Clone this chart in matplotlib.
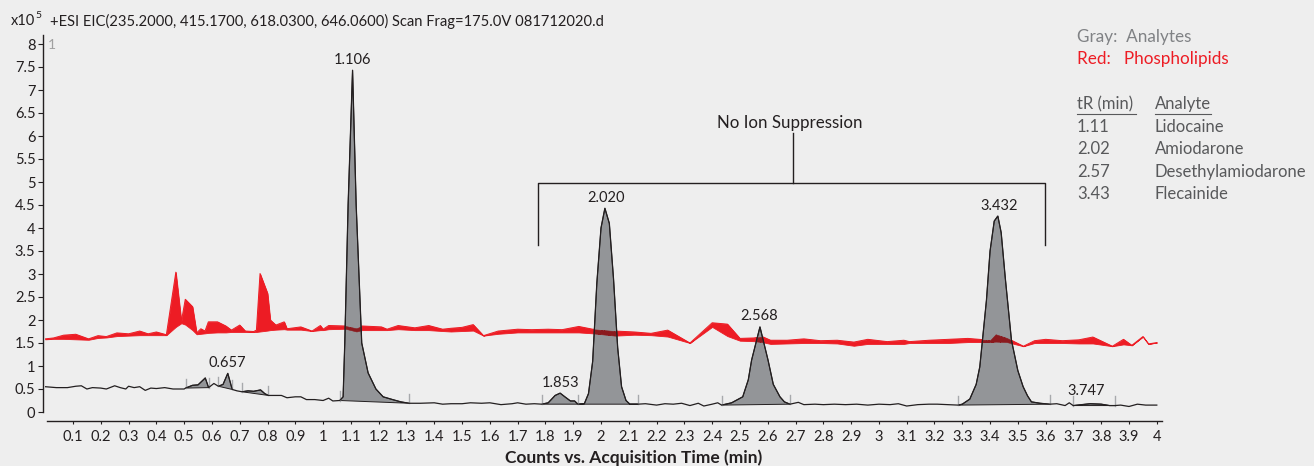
import numpy as np
import matplotlib
matplotlib.use('Agg')
import matplotlib.pyplot as plt
from matplotlib.lines import Line2D

plt.rcParams['font.family'] = ['Lato', 'DejaVu Sans']

# Analyte trace (gray), time in min, counts in x10^5
gray_x = [0.00, 0.04, 0.08, 0.11, 0.13, 0.15, 0.17, 0.20, 0.22, 0.25,
          0.27, 0.29, 0.30, 0.32, 0.34, 0.36, 0.38, 0.40, 0.43, 0.46,
          0.50, 0.505, 0.53, 0.55, 0.576, 0.588, 0.607, 0.623, 0.64, 0.657,
          0.673, 0.69, 0.708, 0.73, 0.75, 0.775, 0.79, 0.803, 0.85, 0.87,
          0.90, 0.92, 0.94, 0.97, 1.00, 1.02, 1.035, 1.06, 1.072, 1.078,
          1.09, 1.106, 1.119, 1.139, 1.162, 1.19, 1.216, 1.25, 1.28, 1.31,
          1.35, 1.40, 1.43, 1.46, 1.50, 1.53, 1.57, 1.60, 1.64, 1.68,
          1.70, 1.73, 1.76, 1.787, 1.81, 1.835, 1.853, 1.87, 1.89, 1.905,
          1.917, 1.94, 1.955, 1.97, 1.985, 2.00, 2.014, 2.03, 2.045, 2.06,
          2.074, 2.09, 2.104, 2.133, 2.16, 2.20, 2.23, 2.26, 2.29, 2.32,
          2.35, 2.37, 2.40, 2.42, 2.434, 2.47, 2.51, 2.53, 2.542, 2.572,
          2.601, 2.62, 2.644, 2.66, 2.68, 2.71, 2.73, 2.77, 2.80, 2.84,
          2.88, 2.92, 2.96, 3.00, 3.04, 3.07, 3.10, 3.14, 3.18, 3.21,
          3.25, 3.285, 3.30, 3.327, 3.35, 3.363, 3.375, 3.387, 3.40, 3.415,
          3.428, 3.44, 3.455, 3.477, 3.50, 3.519, 3.535, 3.549, 3.58, 3.615,
          3.64, 3.67, 3.685, 3.699, 3.73, 3.76, 3.80, 3.83, 3.849, 3.87,
          3.90, 3.93, 3.96, 4.00]
gray_y = [0.55, 0.53, 0.53, 0.56, 0.57, 0.50, 0.53, 0.52, 0.50, 0.57,
          0.53, 0.50, 0.56, 0.53, 0.55, 0.47, 0.52, 0.51, 0.53, 0.50,
          0.50, 0.52, 0.58, 0.59, 0.74, 0.53, 0.62, 0.56, 0.60, 0.84,
          0.49, 0.46, 0.44, 0.46, 0.45, 0.48, 0.40, 0.36, 0.36, 0.31,
          0.33, 0.33, 0.27, 0.27, 0.25, 0.30, 0.24, 0.25, 0.33, 1.50,
          4.50, 7.43, 4.50, 1.50, 0.85, 0.50, 0.33, 0.27, 0.22, 0.19,
          0.19, 0.20, 0.17, 0.18, 0.18, 0.20, 0.19, 0.20, 0.16, 0.18,
          0.20, 0.17, 0.18, 0.17, 0.20, 0.36, 0.41, 0.33, 0.24, 0.24,
          0.17, 0.18, 0.40, 1.10, 2.80, 4.00, 4.43, 4.10, 2.90, 1.40,
          0.55, 0.25, 0.17, 0.17, 0.18, 0.15, 0.18, 0.17, 0.19, 0.14,
          0.19, 0.13, 0.17, 0.20, 0.15, 0.20, 0.33, 0.70, 1.13, 1.85,
          1.13, 0.60, 0.33, 0.22, 0.17, 0.21, 0.16, 0.17, 0.16, 0.17,
          0.16, 0.17, 0.15, 0.17, 0.16, 0.18, 0.13, 0.16, 0.17, 0.17,
          0.16, 0.15, 0.17, 0.28, 0.60, 0.98, 1.70, 2.43, 3.50, 4.15,
          4.26, 3.90, 2.90, 1.56, 0.90, 0.55, 0.35, 0.22, 0.19, 0.17,
          0.18, 0.14, 0.20, 0.14, 0.16, 0.18, 0.17, 0.14, 0.14, 0.15,
          0.12, 0.17, 0.15, 0.15]

# Phospholipid trace (red), drawn as a band between two envelopes
red_x = [0.00, 0.03, 0.066, 0.11, 0.156, 0.19, 0.22, 0.258, 0.30, 0.34,
         0.37, 0.40, 0.436, 0.47, 0.49, 0.504, 0.53, 0.545, 0.56, 0.575,
         0.587, 0.62, 0.65, 0.67, 0.70, 0.72, 0.75, 0.76, 0.773, 0.80,
         0.81, 0.83, 0.86, 0.87, 0.92, 0.96, 0.99, 1.00, 1.02, 1.08,
         1.12, 1.14, 1.21, 1.23, 1.27, 1.33, 1.38, 1.43, 1.46, 1.50,
         1.54, 1.577, 1.63, 1.70, 1.75, 1.81, 1.86, 1.92, 1.97, 2.05,
         2.12, 2.18, 2.24, 2.32, 2.40, 2.455, 2.50, 2.55, 2.58, 2.61,
         2.67, 2.73, 2.79, 2.85, 2.91, 2.96, 3.03, 3.09, 3.11, 3.18,
         3.25, 3.32, 3.40, 3.42, 3.46, 3.52, 3.56, 3.60, 3.66, 3.72,
         3.77, 3.84, 3.88, 3.91, 3.95, 3.97, 4.00]
red_hi = [1.59, 1.61, 1.67, 1.69, 1.59, 1.66, 1.64, 1.72, 1.70, 1.76,
          1.70, 1.74, 1.68, 3.04, 1.97, 2.45, 2.29, 1.72, 1.81, 1.76,
          1.96, 1.96, 1.87, 1.78, 1.89, 1.76, 1.75, 1.78, 3.01, 2.58,
          2.00, 1.89, 1.96, 1.81, 1.85, 1.76, 1.88, 1.80, 1.88, 1.87,
          1.82, 1.87, 1.85, 1.80, 1.88, 1.83, 1.88, 1.80, 1.82, 1.84,
          1.90, 1.66, 1.76, 1.80, 1.79, 1.80, 1.79, 1.86, 1.80, 1.76,
          1.74, 1.71, 1.78, 1.50, 1.94, 1.91, 1.60, 1.61, 1.64, 1.56,
          1.56, 1.59, 1.55, 1.56, 1.52, 1.58, 1.53, 1.56, 1.53, 1.56,
          1.58, 1.60, 1.56, 1.69, 1.61, 1.43, 1.55, 1.58, 1.55, 1.57,
          1.63, 1.43, 1.58, 1.45, 1.64, 1.48, 1.51]
red_lo = [1.58, 1.59, 1.59, 1.58, 1.57, 1.61, 1.62, 1.65, 1.66, 1.67,
          1.67, 1.67, 1.67, 1.85, 1.93, 1.90, 1.78, 1.69, 1.70, 1.71,
          1.72, 1.73, 1.73, 1.74, 1.74, 1.74, 1.74, 1.74, 1.75, 1.77,
          1.78, 1.79, 1.80, 1.79, 1.79, 1.76, 1.78, 1.78, 1.80, 1.81,
          1.75, 1.78, 1.78, 1.78, 1.80, 1.78, 1.78, 1.76, 1.75, 1.76,
          1.77, 1.66, 1.70, 1.73, 1.73, 1.73, 1.73, 1.73, 1.71, 1.66,
          1.68, 1.67, 1.64, 1.50, 1.85, 1.65, 1.55, 1.54, 1.52, 1.48,
          1.49, 1.50, 1.50, 1.49, 1.44, 1.48, 1.48, 1.48, 1.50, 1.50,
          1.50, 1.52, 1.52, 1.53, 1.52, 1.43, 1.50, 1.50, 1.50, 1.49,
          1.49, 1.43, 1.47, 1.45, 1.64, 1.48, 1.51]

# integration windows (start, end) on the analyte trace
peak_start = [0.505, 0.623, 0.708, 1.06, 1.787, 1.917, 2.434, 3.285, 3.699]
peak_end = [0.588, 0.673, 0.803, 1.31, 1.917, 2.133, 2.68, 3.615, 3.849]

peak_label = ['0.657', '1.106', '1.853', '2.020', '2.568', '3.432', '3.747']
peak_apex = [0.84, 7.43, 0.41, 4.43, 1.85, 4.26, 0.22]

legend_tr = ['1.11', '2.02', '2.57', '3.43']
legend_name = ['Lidocaine', 'Amiodarone', 'Desethylamiodarone', 'Flecainide']

BG = '#eeeeee'
RED = '#ed1c24'
DARKRED = '#8b1a1e'
GRAY = '#939598'
INK = '#231f20'
SOFT = '#58595b'

W, H = 1314, 466
fig = plt.figure(figsize=(W / 100, H / 100), dpi=100, facecolor=BG)
ax = fig.add_axes([45.2 / W, 54 / H, 4.02 * 277.9 / W, 8.2 * 46 / H])
ax.set_facecolor(BG)
ax.set_xlim(0, 4.02)
ax.set_ylim(0, 8.2)

gx = np.array(gray_x)
gy = np.array(gray_y)
rx = np.array(red_x)

# phospholipid band
ax.fill_between(rx, red_lo, red_hi, color=RED, lw=0.6, zorder=2)
ax.plot(rx, red_hi, color=RED, lw=0.7, zorder=2)

# integrated analyte peaks
for s, e in zip(peak_start, peak_end):
    m = (gx >= s - 1e-9) & (gx <= e + 1e-9)
    poly = ax.fill(gx[m], gy[m], facecolor=GRAY, edgecolor=INK, lw=0.7, zorder=3)[0]
    over = ax.fill_between(rx, red_lo, red_hi, color=DARKRED, lw=0.4, zorder=4)
    over.set_clip_path(poly)

# boundary marks
for b in sorted(set(peak_start + peak_end)):
    i = int(np.argmin(np.abs(gx - b)))
    ax.plot([b, b], [gy[i], gy[i] + 0.2], color='#a7a9ac', lw=1.0, zorder=5)

ax.plot(gx, gy, color=INK, lw=0.9, zorder=6)

for lab, top in zip(peak_label, peak_apex):
    ax.annotate(lab, (float(lab), top), xytext=(0, 2.5), textcoords='offset points',
                ha='center', va='bottom', fontsize=10.5, color=INK, zorder=7)

# bracket for "No Ion Suppression"
bk = dict(color=INK, lw=1.0, clip_on=False, zorder=7)
ax.plot([1.773, 1.773, 3.597, 3.597], [3.63, 4.98, 4.98, 3.63], **bk)
ax.plot([2.69, 2.69], [4.98, 6.07], **bk)
ax.text(2.68, 6.28, 'No Ion Suppression', ha='center', va='center', fontsize=12.2, color=INK)

# axes styling
for sp in ['top', 'right']:
    ax.spines[sp].set_visible(False)
ax.spines['left'].set_position(('outward', 1.5))
ax.spines['bottom'].set_position(('outward', 6.5))
ax.spines['left'].set_bounds(0, 8.2)
ax.spines['bottom'].set_bounds(0.006, 4.02)
for sp in ['left', 'bottom']:
    ax.spines[sp].set_color(INK)
    ax.spines[sp].set_linewidth(1.0)

xt = np.round(np.arange(1, 41) * 0.1, 1)
ax.set_xticks(xt)
ax.set_xticklabels(['%g' % v for v in xt])
yt = np.arange(0, 17) * 0.5
ax.set_yticks(yt)
ax.set_yticklabels(['%g' % v for v in yt])
ax.tick_params(axis='x', length=2.5, width=0.8, color=INK, labelsize=10.5, labelcolor=INK, pad=4)
ax.tick_params(axis='y', length=3.5, width=0.8, color=INK, labelsize=10.5, labelcolor=INK, pad=2)

ax.text(0.01, 7.98, '1', fontsize=10, color='#a0a0a0', ha='left', va='center')

# header
fig.text(11 / W, 1 - 21 / H, 'x10', fontsize=10.5, color=INK, va='center')
fig.text(35 / W, 1 - 16 / H, '5', fontsize=7.5, color=INK, va='center')
fig.text(50 / W, 1 - 21 / H,
         '+ESI EIC(235.2000, 415.1700, 618.0300, 646.0600) Scan Frag=175.0V 081712020.d',
         fontsize=10.6, color=INK, va='center')

fig.text(634 / W, 1 - 458 / H, 'Counts vs. Acquisition Time (min)', fontsize=12.5,
         fontweight='bold', color=INK, ha='center', va='center')

# legend block on the right
fig.text(1077 / W, 1 - 37 / H, 'Gray:  Analytes', fontsize=12.3, color='#808285', va='center')
fig.text(1077 / W, 1 - 59 / H, 'Red:   Phospholipids', fontsize=12.3, color=RED, va='center')
fig.text(1077 / W, 1 - 104 / H, 'tR (min)', fontsize=12, color=SOFT, va='center')
fig.text(1155 / W, 1 - 104 / H, 'Analyte', fontsize=12, color=SOFT, va='center')
fig.add_artist(Line2D([1077 / W, 1136 / W], [1 - 114 / H] * 2, color=SOFT, lw=0.8))
fig.add_artist(Line2D([1155 / W, 1211 / W], [1 - 114 / H] * 2, color=SOFT, lw=0.8))
for k, (tr, nm) in enumerate(zip(legend_tr, legend_name)):
    yy = 1 - (127 + k * 22.4) / H
    fig.text(1077 / W, yy, tr, fontsize=12, color=SOFT, va='center')
    fig.text(1155 / W, yy, nm, fontsize=12, color=SOFT, va='center')

fig.savefig('out.png', dpi=100, facecolor=BG)
